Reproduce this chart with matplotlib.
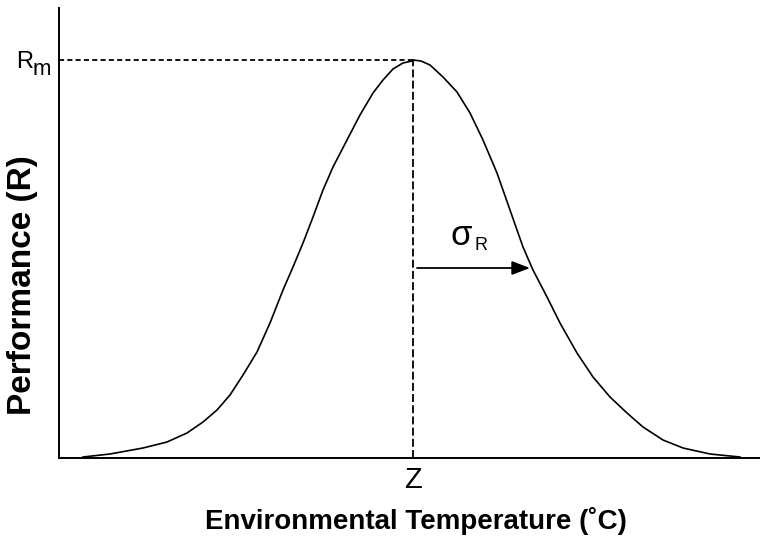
import matplotlib
matplotlib.use("Agg")
import matplotlib.pyplot as plt

plt.rcParams['font.family'] = ['Liberation Sans', 'DejaVu Sans']

# Curve (temperature offset, performance height)
temp = [24, 51, 84, 108, 128, 144, 158, 171, 184, 198, 211, 224, 234, 244,
        254, 264, 274, 288, 301, 314, 324, 334, 344, 353,
        354, 362, 371, 384, 398, 411, 424, 438, 451, 464, 474, 488, 501, 518,
        534, 551, 568, 584, 604, 624, 651, 681]
perf = [1, 4, 10, 16, 25, 36, 48, 63, 83, 106, 135, 168, 191, 215,
        241, 268, 291, 318, 343, 365, 378, 389, 395, 397,
        398, 397, 393, 381, 366, 345, 318, 285, 248, 211, 188, 161, 135, 105,
        81, 61, 45, 31, 18, 10, 4, 1]

z_temp = 354
r_max = 398
sigma_start = 358
sigma_end = 471
sigma_level = 190

fig = plt.figure(figsize=(7.6, 5.38), dpi=100)
ax = fig.add_axes([59/760, 80/538, 700/760, 450/538])
ax.set_xlim(0, 700)
ax.set_ylim(0, 450)

ax.plot(temp, perf, color='black', lw=1.2, solid_joinstyle='round')
ax.plot([0, z_temp], [r_max, r_max], color='black', lw=1.3, linestyle=(0, (2.8, 1.8)))
ax.plot([z_temp, z_temp], [0, r_max], color='black', lw=1.3, linestyle=(0, (4.4, 1.8)))
ax.annotate('', xy=(sigma_end, sigma_level), xytext=(sigma_start, sigma_level),
            arrowprops=dict(arrowstyle='-|>,head_length=1.1,head_width=0.42',
                            color='black', lw=1.3, shrinkA=0, shrinkB=0))

def px(x, y):
    return (x / 760, 1 - y / 538)

fig.text(*px(451, 245), 'σ', fontsize=25, ha='left', va='baseline')
fig.text(*px(474, 250), 'R', fontsize=13, ha='left', va='baseline')
fig.text(*px(16, 68), 'R', fontsize=17, ha='left', va='baseline')
fig.text(*px(33, 75), 'm', fontsize=16, ha='left', va='baseline')
fig.text(*px(413, 488), 'Z', fontsize=21, ha='center', va='baseline')

for s in ['top', 'right']:
    ax.spines[s].set_visible(False)
for s in ['left', 'bottom']:
    ax.spines[s].set_linewidth(1.4)
ax.set_xticks([])
ax.set_yticks([])

fig.text(416/760, 1 - 521/538, 'Environmental Temperature (˚C)', fontsize=20,
         fontweight='bold', ha='center', va='center')
fig.text(23/760, 1 - 285/538, 'Performance (R)', fontsize=24, fontweight='bold',
         ha='center', va='center', rotation=90)

fig.savefig('out.png', dpi=100)
